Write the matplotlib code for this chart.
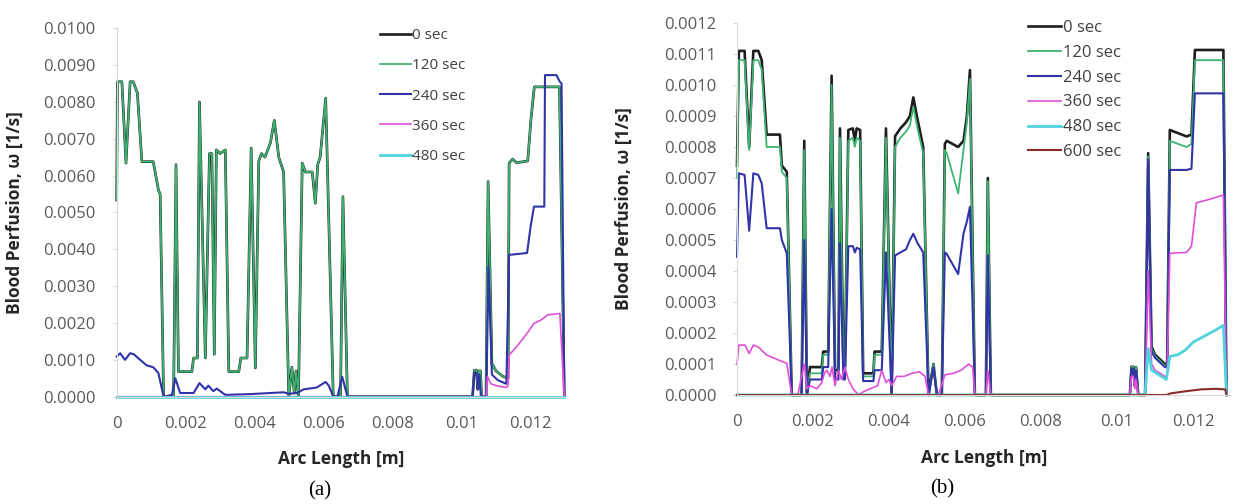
import matplotlib
matplotlib.use("Agg")
import matplotlib.pyplot as plt
import numpy as np
from matplotlib.ticker import FormatStrFormatter

plt.rcParams["font.family"] = ["Open Sans", "DejaVu Sans"]

# ---- panel (a): arc length in mm, perfusion in 1e-3 1/s ----
a_x_120 = [0.0, 0.02, 0.15, 0.27, 0.39, 0.48, 0.60, 0.73, 1.06, 1.21, 1.26, 1.36, 1.65, 1.72, 1.79,
           2.18, 2.23, 2.34, 2.40, 2.57, 2.69, 2.76, 2.83, 2.89, 3.00, 3.15, 3.25, 3.54, 3.60, 3.78,
           3.90, 4.02, 4.12, 4.20, 4.30, 4.46, 4.57, 4.70, 4.84, 4.99, 5.08, 5.15, 5.20, 5.27, 5.38,
           5.47, 5.67, 5.76, 5.83, 5.90, 6.06, 6.28, 6.49, 6.56, 6.69, 10.32, 10.37, 10.43, 10.47,
           10.50, 10.55, 10.58, 10.71, 10.77, 10.88, 11.00, 11.20, 11.35, 11.38, 11.48, 11.60, 11.92,
           12.01, 12.11, 12.84, 12.98]
a_y_120 = [5.34, 8.55, 8.55, 6.34, 8.55, 8.55, 8.24, 6.38, 6.38, 5.61, 5.50, 0.0, 0.0, 6.30, 0.68,
           0.68, 1.05, 1.05, 8.00, 1.05, 6.60, 6.60, 1.15, 6.70, 6.60, 6.70, 0.68, 0.68, 1.05, 1.05,
           6.75, 0.78, 6.40, 6.60, 6.50, 6.90, 7.50, 6.50, 6.10, 0.0, 0.80, 0.10, 0.70, 0.0, 6.34,
           6.10, 6.10, 5.25, 6.30, 6.50, 8.10, 0.0, 0.0, 5.43, 0.0, 0.0, 0.72, 0.72, 0.20,
           0.70, 0.70, 0.0, 0.0, 5.84, 0.90, 0.70, 0.55, 0.50, 6.34, 6.45, 6.35, 6.40,
           7.50, 8.41, 8.41, 0.0]
# 0 sec lies on top of the 120 sec curve in panel (a)
a_x_0 = a_x_120
a_y_0 = a_y_120

a_x_240 = [0.0, 0.10, 0.24, 0.39, 0.50, 0.68, 0.87, 1.06, 1.21, 1.36, 1.60, 1.70, 1.84, 2.23, 2.40,
           2.57, 2.66, 2.80, 2.90, 3.15, 3.87, 4.84, 4.99, 5.23, 5.42, 5.80, 6.06, 6.15, 6.28, 6.40,
           6.54, 6.69, 10.32, 10.37, 10.45, 10.48, 10.52, 10.56, 10.72, 10.78, 10.88, 11.05, 11.30,
           11.38, 11.90, 12.00, 12.10, 12.40, 12.42, 12.75, 12.85, 12.90, 12.98]
a_y_240 = [1.09, 1.18, 1.00, 1.18, 1.15, 1.00, 0.85, 0.80, 0.64, 0.0, 0.05, 0.50, 0.10, 0.10, 0.37,
           0.20, 0.30, 0.15, 0.22, 0.05, 0.07, 0.12, 0.08, 0.10, 0.20, 0.25, 0.40, 0.30, 0.0, 0.0,
           0.54, 0.0, 0.0, 0.65, 0.65, 0.20, 0.60, 0.0, 0.0, 3.53, 0.60, 0.45, 0.35,
           3.85, 3.90, 4.60, 5.16, 5.16, 8.73, 8.73, 8.55, 8.50, 0.0]

a_x_360 = [0.0, 10.72, 10.75, 10.85, 11.00, 11.30, 11.35, 11.38, 11.60, 11.90, 12.10, 12.30, 12.50,
           12.85, 12.98]
a_y_360 = [0.0, 0.0, 0.55, 0.35, 0.30, 0.25, 0.30, 1.13, 1.36, 1.72, 1.99, 2.08, 2.22, 2.26, 0.0]

a_x_480 = [0.0, 12.98]
a_y_480 = [0.0, 0.0]

# ---- panel (b): arc length in mm, perfusion in 1e-4 1/s ----
b_x = [0.0, 0.05, 0.20, 0.32, 0.43, 0.56, 0.65, 0.78, 1.13, 1.18,
       1.31, 1.44, 1.70, 1.77, 1.84, 1.92, 2.23, 2.27, 2.40, 2.49,
       2.58, 2.67, 2.71, 2.80, 2.84, 2.93, 3.05, 3.10, 3.15, 3.24,
       3.32, 3.59, 3.62, 3.81, 3.92, 4.07, 4.16, 4.30, 4.45, 4.55,
       4.64, 4.75, 4.90, 5.04, 5.17, 5.26, 5.39, 5.47, 5.52, 5.82,
       5.96, 6.05, 6.13, 6.26, 6.55, 6.60, 6.68, 10.34, 10.38, 10.43,
       10.47, 10.50, 10.56, 10.74, 10.82, 10.91, 11.00, 11.26, 11.32, 11.39,
       11.83, 11.96, 12.05, 12.80, 12.88]
b_y_0 = [7.4, 11.1, 11.1, 8.0, 11.1, 11.1, 10.8, 8.4, 8.4, 7.4,
         7.2, 0.0, 0.0, 8.2, 0.0, 0.9, 0.9, 1.4, 1.4, 10.3,
         0.8, 0.8, 8.6, 0.9, 0.9, 8.55, 8.6, 8.2, 8.6, 8.55,
         0.7, 0.7, 1.4, 1.4, 8.6, 0.0, 8.35, 8.6, 8.8, 9.0,
         9.6, 8.9, 8.0, 0.0, 1.0, 0.0, 0.0, 8.1, 8.2, 8.0,
         8.2, 9.0, 10.48, 0.0, 0.0, 7.0, 0.0, 0.0, 0.91, 0.91,
         0.3, 0.9, 0.0, 0.0, 7.8, 1.56, 1.3, 1.0, 1.0, 8.55,
         8.34, 8.4, 11.13, 11.13, 0.0]
b_y_120 = [7.0, 10.8, 10.8, 7.9, 10.8, 10.8, 10.5, 8.0, 8.0, 7.2,
           7.0, 0.0, 0.0, 7.9, 0.0, 0.7, 0.7, 1.3, 1.3, 10.0,
           0.7, 0.7, 8.3, 0.8, 0.8, 8.2, 8.3, 8.0, 8.3, 8.2,
           0.6, 0.6, 1.3, 1.3, 8.3, 0.0, 8.0, 8.3, 8.5, 8.7,
           9.3, 8.6, 7.8, 0.0, 1.0, 0.0, 0.0, 7.9, 7.8, 6.5,
           7.9, 8.8, 10.2, 0.0, 0.0, 6.9, 0.0, 0.0, 0.91, 0.91,
           0.3, 0.9, 0.0, 0.0, 7.7, 1.5, 1.25, 0.95, 0.95, 8.2,
           8.0, 8.1, 10.8, 10.8, 0.0]
b_y_240 = [4.46, 7.15, 7.1, 5.3, 7.15, 7.1, 6.83, 5.38, 5.38, 5.0,
           4.57, 0.0, 0.0, 5.0, 0.0, 0.5, 0.5, 0.9, 0.9, 6.0,
           0.5, 0.5, 4.9, 0.5, 0.5, 4.8, 4.8, 4.6, 4.75, 4.7,
           0.45, 0.45, 0.8, 0.8, 4.6, 0.0, 4.5, 4.6, 4.7, 5.0,
           5.2, 4.9, 4.6, 0.0, 0.9, 0.0, 0.0, 4.6, 4.55, 3.9,
           5.2, 5.6, 6.07, 0.0, 0.0, 4.5, 0.0, 0.0, 0.85, 0.85,
           0.3, 0.8, 0.0, 0.0, 7.6, 1.4, 1.2, 0.9, 0.9, 7.26,
           7.26, 7.3, 9.73, 9.73, 0.0]

b_x_360 = [0.0, 0.05, 0.21, 0.32, 0.43, 0.56, 0.78, 1.09, 1.31, 1.44,
           1.60, 1.70, 1.77, 1.84, 1.92, 2.10, 2.23, 2.30, 2.36, 2.45,
           2.50, 2.58, 2.67, 2.75, 2.84, 2.93, 3.05, 3.20, 3.32, 3.50,
           3.70, 3.81, 3.92, 4.00, 4.07, 4.20, 4.40, 4.60, 4.80, 4.95,
           5.04, 5.30, 5.47, 5.70, 5.90, 6.10, 6.20, 6.26, 6.55, 6.60,
           6.68, 10.34, 10.38, 10.43, 10.47, 10.50, 10.56, 10.74, 10.82, 10.91,
           11.00, 11.26, 11.32, 11.39, 11.83, 11.96, 12.09, 12.40, 12.80, 12.88]
b_y_360 = [1.0, 1.61, 1.61, 1.34, 1.61, 1.55, 1.29, 1.13, 1.02, 0.0,
           0.0, 0.6, 1.0, 0.2, 0.3, 0.2, 0.4, 0.7, 0.8, 0.6,
           0.9, 0.3, 0.8, 0.5, 0.9, 0.5, 0.2, 0.0, 0.1, 0.2,
           0.3, 0.8, 0.4, 0.5, 0.3, 0.6, 0.6, 0.7, 0.75, 0.6,
           0.0, 0.0, 0.65, 0.7, 0.8, 1.0, 0.9, 0.0, 0.0, 0.8,
           0.0, 0.0, 0.6, 0.6, 0.2, 0.5, 0.0, 0.0, 4.0, 1.0,
           0.8, 0.6, 0.6, 4.57, 4.6, 4.8, 6.2, 6.3, 6.45, 0.0]

b_x_480 = [0.0, 10.74, 10.82, 10.91, 11.30, 11.39, 11.60, 11.80, 12.00, 12.30, 12.60, 12.80, 12.88]
b_y_480 = [0.0, 0.0, 1.5, 0.8, 0.5, 1.24, 1.3, 1.45, 1.7, 1.9, 2.1, 2.25, 0.0]

b_x_600 = [0.0, 11.30, 11.40, 11.80, 12.20, 12.60, 12.85, 12.88]
b_y_600 = [0.0, 0.0, 0.05, 0.12, 0.18, 0.20, 0.18, 0.0]

x_ticks = [0, 0.002, 0.004, 0.006, 0.008, 0.010, 0.012]
x_ticklabels = ["0", "0.002", "0.004", "0.006", "0.008", "0.01", "0.012"]

colors = {
    "0 sec": "#1e1e1e",
    "120 sec": "#3cb371",
    "240 sec": "#3034a8",
    "360 sec": "#e04fd8",
    "480 sec": "#4fd3dc",
    "600 sec": "#8c2a2a",
}
widths = {"0 sec": 1.9, "120 sec": 1.3, "240 sec": 1.5, "360 sec": 1.2,
          "480 sec": 2.0, "600 sec": 1.5}

panel_a = [("0 sec", a_x_0, a_y_0), ("120 sec", a_x_120, a_y_120),
           ("240 sec", a_x_240, a_y_240), ("360 sec", a_x_360, a_y_360),
           ("480 sec", a_x_480, a_y_480)]
panel_b = [("0 sec", b_x, b_y_0), ("120 sec", b_x, b_y_120),
           ("240 sec", b_x, b_y_240), ("360 sec", b_x_360, b_y_360),
           ("480 sec", b_x_480, b_y_480), ("600 sec", b_x_600, b_y_600)]

W, H = 1233, 504
fig = plt.figure(figsize=(W / 100, H / 100), dpi=100)
ax_a = fig.add_axes([116.7 / W, 1 - 396.7 / H, (565 - 116.7) / W, (396.7 - 28.3) / H])
ax_b = fig.add_axes([737 / W, 1 - 395 / H, (1231 - 737) / W, (395 - 23) / H])


def style(ax, ymax, ystep):
    for s in ("top", "right"):
        ax.spines[s].set_visible(False)
    for s in ("left", "bottom"):
        ax.spines[s].set_color("#d9d9d9")
        ax.spines[s].set_linewidth(0.8)
    ax.set_xlim(0, 0.013)
    ax.set_ylim(0, ymax)
    ax.set_xticks(x_ticks)
    ax.set_xticklabels(x_ticklabels)
    ax.set_yticks(np.arange(0, ymax + ystep / 2, ystep))
    ax.yaxis.set_major_formatter(FormatStrFormatter("%.4f"))
    ax.tick_params(axis="x", length=0, pad=14, labelsize=12, labelcolor="#595959")
    ax.tick_params(axis="y", length=3, color="#d9d9d9", pad=12, labelsize=12,
                   labelcolor="#595959")
    ax.set_xlabel("Arc Length [m]", fontsize=12.5, fontweight="bold", color="#262626")
    ax.set_ylabel("Blood Perfusion, \u03c9 [1/s]", fontsize=12.5, fontweight="bold",
                  color="#262626")
    ax.xaxis.set_label_coords(0.5, -0.145)


for label, xs, ys in panel_a:
    ax_a.plot(np.array(xs) * 1e-3, np.array(ys) * 1e-3, color=colors[label],
              lw=widths[label], label=label, clip_on=False)
for label, xs, ys in panel_b:
    ax_b.plot(np.array(xs) * 1e-3, np.array(ys) * 1e-4, color=colors[label],
              lw=widths[label], label=label, clip_on=False)

style(ax_a, 0.0100, 0.0010)
style(ax_b, 0.0012, 0.0001)
ax_a.yaxis.set_label_coords(-0.208, 0.5)
ax_b.yaxis.set_label_coords(-0.21, 0.5)

leg_a = ax_a.legend(loc="upper left", bbox_to_anchor=(380 / W, 1 - 28 / H),
                    bbox_transform=fig.transFigure, frameon=False, fontsize=11,
                    handlelength=2.0, handletextpad=0.1, labelspacing=1.0,
                    borderpad=0, borderaxespad=0)
leg_b = ax_b.legend(loc="upper left", bbox_to_anchor=(1028 / W, 1 - 20 / H),
                    bbox_transform=fig.transFigure, frameon=False, fontsize=12,
                    handlelength=2.0, handletextpad=0.1, labelspacing=0.53,
                    borderpad=0, borderaxespad=0)
for leg in (leg_a, leg_b):
    for t in leg.get_texts():
        t.set_color("#404040")

fig.text(320 / W, 1 - 491 / H, "(a)", ha="center", va="center", fontsize=15,
         family="Liberation Serif")
fig.text(942 / W, 1 - 489 / H, "(b)", ha="center", va="center", fontsize=15,
         family="Liberation Serif")

fig.savefig("out.png", dpi=100)
